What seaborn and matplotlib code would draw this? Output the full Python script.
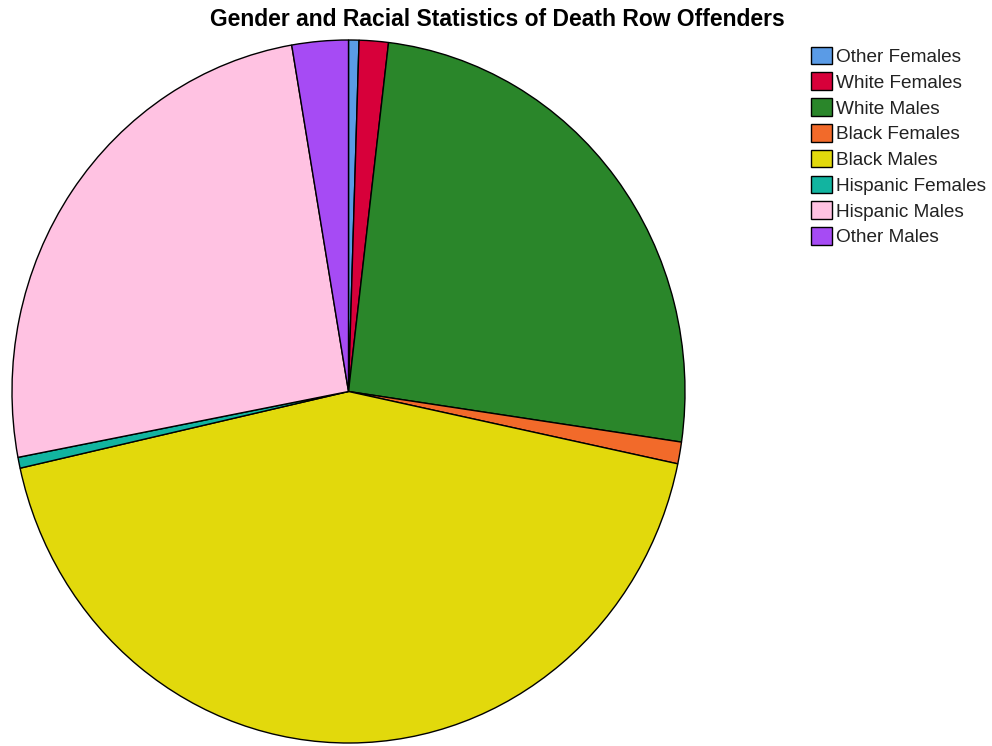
import matplotlib
matplotlib.use("Agg")
import matplotlib.pyplot as plt
import seaborn as sns

categories = ["Other Females", "White Females", "White Males", "Black Females",
              "Black Males", "Hispanic Females", "Hispanic Males", "Other Males"]
values = [0.5, 1.4, 25.4, 1.0, 43.2, 0.5, 25.3, 2.7]
colors = ["#5A9BE6", "#D7003A", "#2A862A", "#F26A2A",
          "#E2D90C", "#12B4A0", "#FFC2E2", "#A64BF4"]

sns.set_theme(style="white")
plt.rcParams['font.family'] = ['Liberation Sans', 'DejaVu Sans']
palette = sns.color_palette(colors)

fig = plt.figure(figsize=(9.92, 7.46), dpi=100)
ax = fig.add_axes([12/992, 3/746, 673/992, 703/746])
wedges, _ = ax.pie(values, colors=palette, startangle=90, counterclock=False,
                   wedgeprops=dict(edgecolor="black", linewidth=1.0))
ax.set_xlim(-1.0, 1.0)
ax.set_ylim(-1.0, 1.0)
ax.set_aspect("auto")
ax.axis("off")

fig.text(497/992, 1 - 20/746, "Gender and Racial Statistics of Death Row Offenders",
         ha="center", va="center", fontsize=16.5, fontweight="bold", color="black")

leg = fig.legend(wedges, categories, loc="upper left",
                 bbox_to_anchor=(803/992, 1 - 39/746), frameon=False,
                 fontsize=13.7, handlelength=1.15, handleheight=1.05,
                 handletextpad=0.2, labelspacing=0.34, borderaxespad=0)
for t in leg.get_texts():
    t.set_color("#222222")

fig.savefig("out.png", dpi=100)
